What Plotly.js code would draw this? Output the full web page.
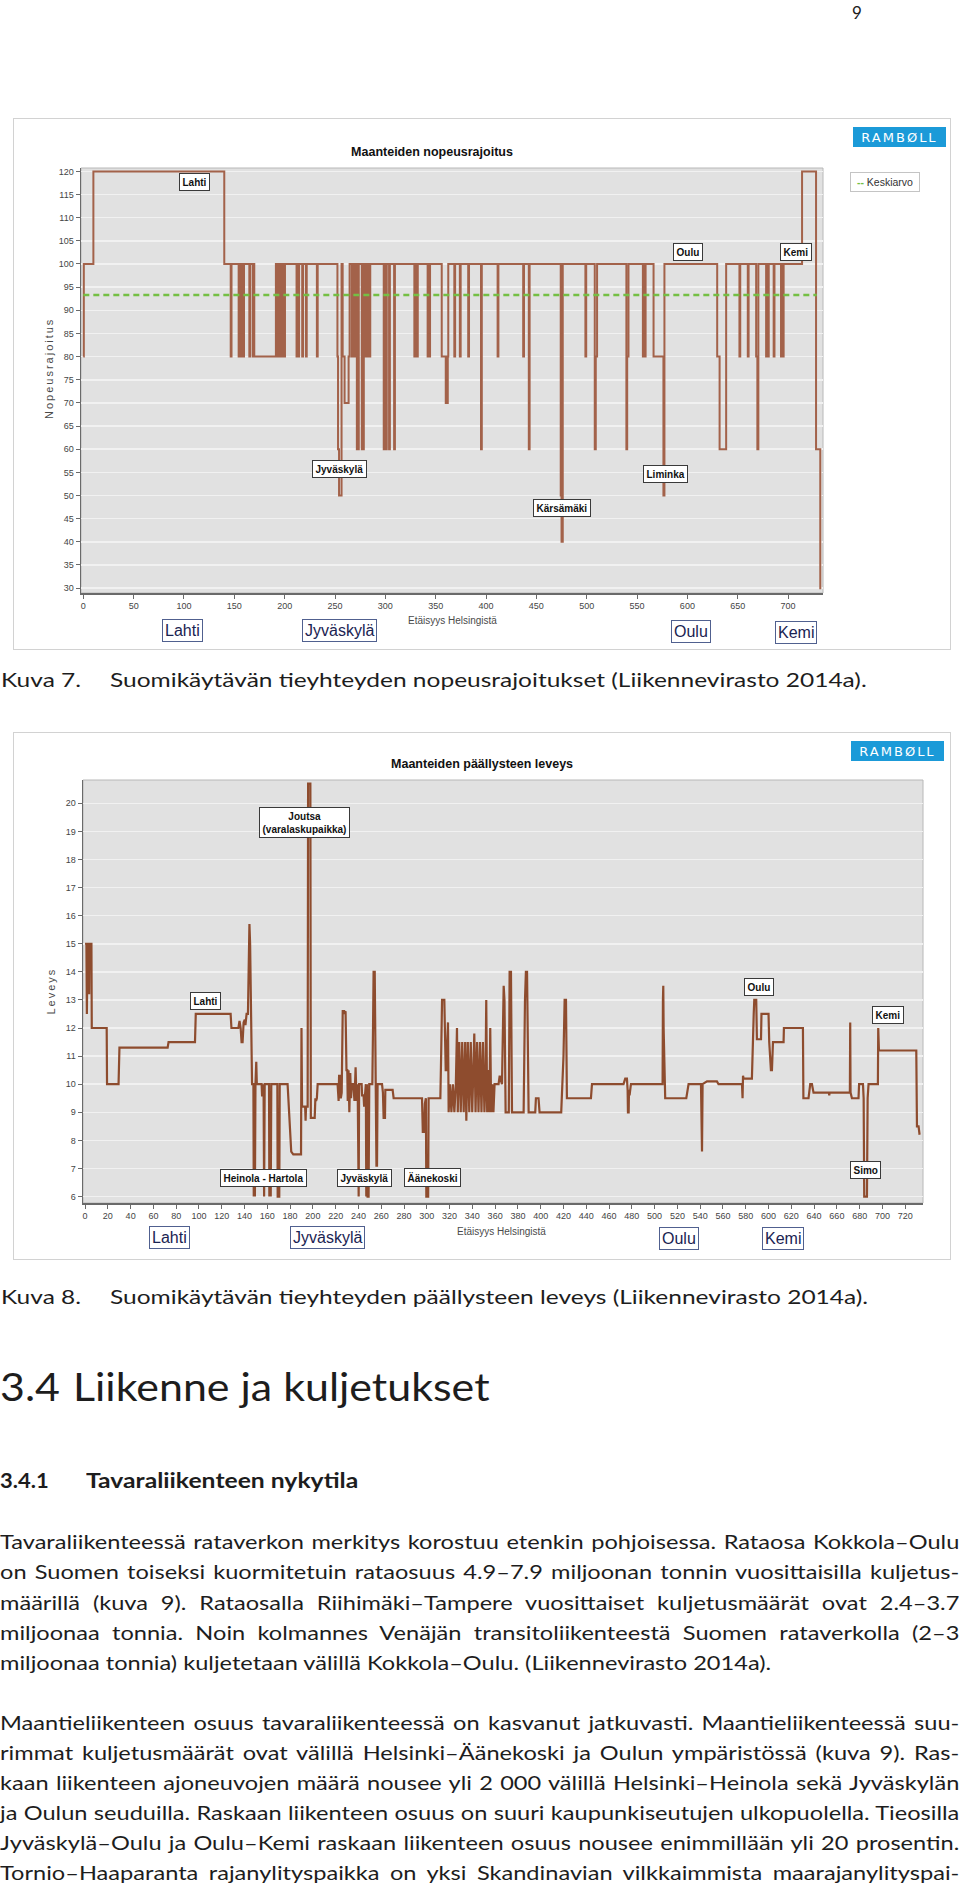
<!DOCTYPE html>
<html><head><meta charset="utf-8">
<script src="https://cdn.plot.ly/plotly-3.0.1.min.js"></script>
<style>
html,body{margin:0;padding:0;background:#fff;}
body{width:960px;height:1891px;position:relative;overflow:hidden;font-family:Lato,'Open Sans',sans-serif;color:#1d1d1d;}
.t{position:absolute;white-space:nowrap;font-size:20px;line-height:30px;transform-origin:0 50%;}
.b{transform:scaleX(1.18);}
.j{left:0;width:813px;text-align:justify;text-align-last:justify;word-spacing:-3px;}
.cap{transform:scaleX(1.225);}
.frame{position:absolute;border:1.5px solid #d2d2d2;box-sizing:border-box;pointer-events:none;}
.chart{position:absolute;}
</style></head><body>

<div class="t" style="left:852px;top:1px;font-size:17px;line-height:24px">9</div>

<div id="c1" class="chart" style="left:14px;top:118px;width:937px;height:531px"></div>
<div class="frame" style="left:13px;top:118px;width:938px;height:532px"></div>

<div class="t cap" style="left:1px;top:664px">Kuva 7.</div>
<div class="t cap" style="left:110px;top:664px">Suomikäytävän tieyhteyden nopeusrajoitukset (Liikennevirasto 2014a).</div>

<div id="c2" class="chart" style="left:14px;top:732px;width:937px;height:527px"></div>
<div class="frame" style="left:13px;top:732px;width:938px;height:528px"></div>

<div class="t cap" style="left:1px;top:1281px">Kuva 8.</div>
<div class="t cap" style="left:110px;top:1281px">Suomikäytävän tieyhteyden päällysteen leveys (Liikennevirasto 2014a).</div>

<div class="t" style="left:0;top:1363px;font-size:38px;line-height:46px;transform:scaleX(1.13)">3.4</div>
<div class="t" style="left:73px;top:1363px;font-size:38px;line-height:46px;transform:scaleX(1.13)">Liikenne ja kuljetukset</div>

<div class="t" style="left:0;top:1465px;font-weight:bold;transform:scaleX(1.1)">3.4.1</div>
<div class="t" style="left:86px;top:1465px;font-weight:bold;transform:scaleX(1.235)">Tavaraliikenteen nykytila</div>

<div class="t b j" style="top:1526px">Tavaraliikenteessä rataverkon merkitys korostuu etenkin pohjoisessa. Rataosa Kokkola–Oulu</div>
<div class="t b j" style="top:1556px">on Suomen toiseksi kuormitetuin rataosuus 4.9–7.9 miljoonan tonnin vuosittaisilla kuljetus-</div>
<div class="t b j" style="top:1587px">määrillä (kuva 9). Rataosalla Riihimäki–Tampere vuosittaiset kuljetusmäärät ovat 2.4–3.7</div>
<div class="t b j" style="top:1617px">miljoonaa tonnia. Noin kolmannes Venäjän transitoliikenteestä Suomen rataverkolla (2–3</div>
<div class="t b" style="left:0;top:1647px">miljoonaa tonnia) kuljetetaan välillä Kokkola–Oulu. (Liikennevirasto 2014a).</div>

<div class="t b j" style="top:1707px">Maantieliikenteen osuus tavaraliikenteessä on kasvanut jatkuvasti. Maantieliikenteessä suu-</div>
<div class="t b j" style="top:1737px">rimmat kuljetusmäärät ovat välillä Helsinki–Äänekoski ja Oulun ympäristössä (kuva 9). Ras-</div>
<div class="t b j" style="top:1767px">kaan liikenteen ajoneuvojen määrä nousee yli 2 000 välillä Helsinki–Heinola sekä Jyväskylän</div>
<div class="t b j" style="top:1797px">ja Oulun seuduilla. Raskaan liikenteen osuus on suuri kaupunkiseutujen ulkopuolella. Tieosilla</div>
<div class="t b j" style="top:1827px">Jyväskylä–Oulu ja Oulu–Kemi raskaan liikenteen osuus nousee enimmillään yli 20 prosentin.</div>
<div class="t b j" style="top:1857px">Tornio–Haaparanta rajanylityspaikka on yksi Skandinavian vilkkaimmista maarajanylityspai-</div>

<script>
// ---------- DATA ----------
// Chart 1: speed limit (km from Helsinki, km/h), step line
const nopeusData = [
[0,80],[0.5,100],[10,120],[140,100],[146.4,80],[147.2,100],[154.3,80],[155,100],[156,80],[157,100],[158,80],[159.6,100],
[164.9,80],[165.6,100],[168.2,80],[169,100],[169.8,80],[191.3,100],[192.2,80],[193.6,100],[194.5,80],[195.5,100],[197,80],[197.8,100],[198.6,80],[200.3,100],
[211.8,80],[212.6,100],[213.5,80],[214.3,100],[217.4,80],[218.2,100],[221.1,80],[221.9,100],[232,80],[232.8,100],
[252.4,80],[253,60],[254,50],[256.5,100],[257.6,80],[259.5,70],[263.5,80],[264.5,100],[266.7,80],[267.5,100],[269.3,80],[270,100],
[271.7,60],[273.6,100],[276.6,60],[278.6,100],[280.5,80],[281.3,100],[282.3,80],[283,100],[284.2,80],[285,100],
[298.4,60],[299.2,100],[300.5,60],[301.4,100],[303.7,60],[304.5,100],[308.7,60],[309.5,100],
[328.8,80],[329.6,100],[331.4,80],[332.2,100],[342,80],[342.8,100],[343.6,80],[344.4,100],[356,80],[360,70],[362,80],[362.5,100],
[368.5,80],[369.3,100],[374,80],[374.8,100],[382.3,80],[383.1,100],[395,60],[395.8,100],[411.5,80],[412.3,100],
[436.9,80],[437.7,100],[442.5,60],[443.3,100],[474.2,50],[475,40],[476.2,100],[498.7,80],[499.5,100],[508,60],[509,80],[510.3,100],
[539.4,60],[540.2,80],[541.5,100],[555.8,80],[556.6,100],[557.5,80],[558.5,100],[566.4,80],[576.2,50],[577.2,100],
[629.6,80],[632,60],[638.5,100],[651.7,80],[652.5,100],[660,80],[660.8,100],[668.3,80],[669.5,60],[670.5,100],
[678.2,80],[679,100],[680,80],[680.8,100],[685.7,80],[686.5,100],[693,80],[693.8,100],[694.8,80],[695.6,100],
[713.9,120],[727.8,60],[732,30],[733,30]
];
const keskiarvo = 93.3;           // Keskiarvo (mean) line value
const keskiarvoAlue = [0, 728.5]; // extent of mean line (km)

// Chart 2: pavement width (km, m)
const leveysData = [
[0,15],[1.2,15],[1.6,12.5],[2.2,15],[3.3,15],[3.6,13.2],[3.9,15],[5.6,15],[5.9,12],
[19,12],[19.3,10],[29.4,10],[30.2,11.3],[72.5,11.3],[73.3,11.5],[96.5,11.5],[97.2,12.5],[127.8,12.5],[128.5,12],[134.6,12],
[135.6,12.25],[136.6,12],[137.4,11.5],[138.3,11.5],[139.2,12.2],[140.2,12.3],[140.8,12.1],[141.8,12.5],[143,12.5],[143.6,14],
[144.3,15.7],[144.9,15],[145.4,13],[146.1,10.8],[146.6,10],[147.8,10],[148.1,6],[148.7,10],[149.1,6],[149.6,10],[150.3,10.8],
[150.8,10],[155,10],[155.4,9.6],[156.3,9.6],[156.7,10],[157.2,6],[157.7,10],[161.5,10],[161.8,6],[162.5,9.5],[163,6],[163.5,10],
[168.8,10],[169.1,6],[170.5,6],[170.9,10],[177.8,10],[179.5,8.5],[181,7.6],[182.8,7.5],[189.6,7.5],[190,12],[190.5,9.2],
[193.2,9.2],[193.6,8.7],[194,9.2],[195.4,9.2],[195.8,20.7],[197.8,20.7],[198.2,8.8],[201.6,8.8],[202.2,9.5],[202.8,9.4],[203.5,9.5],[204.2,10],
[221.7,10],[222,9.4],[222.6,9.4],[223,10.3],[223.8,10.3],[224.5,9.5],[225.3,9.7],[226.2,12.6],[227.5,12.6],[228,12.5],[228.7,12.6],
[229.5,10.5],[230.2,10.5],[230.6,9.4],[231.3,10.5],[232,9],[232.8,10.4],[233.5,9.5],[234.1,10],[235.5,10],[236.5,9.4],[237.5,10.6],
[238.3,9.4],[239.3,10],[239.7,6],[240.2,6],[240.6,10],[242.8,10],[243.2,9.6],[244.5,9.6],[245,9.2],[246.5,10],[246.9,6],[247.5,10],
[248,6],[248.9,6],[249.5,10],[252.2,10],[252.8,12],[253.3,14],[254.3,14],[255,9],[255.8,7.1],[256.3,7.1],[256.8,10],[260.7,10],
[261.5,9.7],[262.1,8.8],[263.3,8.8],[263.6,9.8],[270,9.8],[270.9,9.5],[295.8,9.5],[296.5,8.3],[297.5,8.3],[298.3,9.3],[299.2,9.5],
[299.6,6],[301.2,6],[301.6,9.5],[311.9,9.5],[312.6,11],[313.4,13],[315.4,13],[316,11.5],[316.6,10.5],[317.1,10.5],[318,11.5],[318.6,12.2],[319.2,9],
[320.3,10],[321.6,9],[322.9,10],[324.2,9],[325.5,10],[326.5,12],[327.2,9],[328.5,11.5],[329.8,9],[331.1,11.5],[332.4,9],
[333.7,11.5],[334.7,8.7],[336,11.5],[337.3,9],[338.6,11.5],[339.9,9],[341.7,11.8],[342.8,9],[344.1,11.5],[345.4,9],
[346.7,11.5],[348,9],[349.3,11.5],[350.6,9],[351.5,10],[352.2,13],[353,9],[354,10.5],[355,9],[355.7,12],[356.5,9],
[357.5,10],[358.5,9],[359.5,10],[363,10],[364,10.3],[366,10],[367.5,13.5],[368.2,13],[369.2,9],[372,9],[372.7,14],[373.9,14],[374.8,9],
[385,9],[385.6,12.5],[386.2,13],[387,14],[388,14],[389.4,9],[395.2,9],[395.8,9.5],[398.1,9.5],[399,9],[418,9],[420,11],[421,13],[422.2,13],
[423,9.5],[444.1,9.5],[445,10],[472.7,10],[474.2,10.2],[475.7,10.2],[476.3,9.8],[476.6,9],[477.2,9],[477.5,9.8],[478,9.6],[479.2,10],
[507,10],[507.3,13],[507.6,13.5],[507.9,12],[508.5,10],[509.3,9.5],[527.8,9.5],[529.8,10],[540.7,10],[541.1,7.6],[541.6,7.6],[542.1,10],
[546,10.1],[554.7,10.1],[556.1,10],[576.7,10],[577.2,9.5],[577.6,10.3],[578.1,10.2],[585.4,10.2],[586.3,12.2],[587,12.5],[587.5,13],
[589.2,13],[589.8,11.6],[593.4,11.6],[593.8,12.5],[600,12.5],[600.6,11.5],[602.1,10.5],[603,10.5],[603.9,11.5],[613.2,11.5],[613.5,12],
[630.2,12],[630.6,9.5],[635.1,9.5],[636.6,10],[638.1,10],[639.5,9.7],[653,9.7],[653.3,9.6],[653.6,9.7],[671.4,9.7],[671.7,12.2],[672,9.7],
[673.2,9.5],[679,9.5],[679.5,10],[682.9,10],[683.5,9.5],[684,6],[686.4,6],[687,9.5],[687.8,10],[696,10],[696.3,12],[696.9,11.2],
[729.7,11.2],[730.3,8.5],[731.7,8.5],[732.6,8.2]
];

// in-plot place labels [text, km, value]
const paikat1 = [["Lahti",110.2,117.8],["Oulu",601,102.65],["Kemi",707.4,102.65],["Jyväskylä",254.1,55.7],["Kärsämäki",475.1,47.2],["Liminka",578.6,54.6]];
const paikat2 = [["Joutsa<br>(varalaskupaikka)",192.5,19.33],["Lahti",105.6,12.97],["Heinola - Hartola",156.8,6.67],["Jyväskylä",245.4,6.67],["Äänekoski",304.6,6.67],["Oulu",591.3,13.47],["Kemi",704.9,12.48],["Simo",684.7,6.95]];
// city labels under axes
const kaupungit = ["Lahti","Jyväskylä","Oulu","Kemi"];

// ---------- LAYOUT HELPERS ----------
const C1 = {left:14, top:118, W:937, H:531, ml:67, mr:128, mt:50, mb:56};
const C2 = {left:14, top:732, W:937, H:527, ml:69, mr:28, mt:48, mb:56};
function P(c, px, py){
  const pw = c.W - c.ml - c.mr, ph = c.H - c.mt - c.mb;
  return {x:(px - c.left - c.ml)/pw, y:1 - (py - c.top - c.mt)/ph};
}
const FONT = 'Liberation Sans, Arial, sans-serif';
function label(t, x, y){
  return {xref:'x', yref:'y', x:x, y:y, text:'<b>'+t+'</b>', showarrow:false, xanchor:'center', yanchor:'middle',
    bgcolor:'#ffffff', bordercolor:'#3a3a3a', borderwidth:1, borderpad:2.5, font:{family:FONT, size:10, color:'#111'}};
}
function cityBox(c, t, px, py){
  const p = P(c, px, py);
  return {xref:'paper', yref:'paper', x:p.x, y:p.y, text:t, showarrow:false, xanchor:'center', yanchor:'middle',
    bgcolor:'#ffffff', bordercolor:'#50608f', borderwidth:1, borderpad:2, font:{family:FONT, size:16, color:'#1a2352'}};
}
function logo(c, px, py){
  const p = P(c, px, py);
  return {xref:'paper', yref:'paper', x:p.x, y:p.y, text:"<span style='letter-spacing:2px'>RAMBØLL</span>", showarrow:false, xanchor:'center', yanchor:'middle',
    bgcolor:'#1b9ad8', bordercolor:'#1b9ad8', borderwidth:1, width:89, height:16, borderpad:1,
    font:{family:'DejaVu Sans, Open Sans, sans-serif', size:13, color:'#ffffff'}};
}
function txt(c, t, px, py, size, angle){
  const p = P(c, px, py);
  return {xref:'paper', yref:'paper', x:p.x, y:p.y, text:t, showarrow:false, xanchor:'center', yanchor:'middle',
    textangle:angle||0, font:{family:FONT, size:size, color:'#4a4a4a'}};
}
function axes(range, dtick, grid){
  return {range:range, dtick:dtick, showgrid:grid, gridcolor:'#f1f1f1', gridwidth:1.5, zeroline:false,
    showline:true, linecolor:'#6a6a6a', linewidth:1.5, ticks:'outside', ticklen:4, tickcolor:'#6a6a6a',
    tickfont:{family:FONT, size:9, color:'#444'}, fixedrange:true};
}
const border = {type:'rect', xref:'paper', yref:'paper', x0:0, x1:1, y0:0, y1:1, line:{color:'#b8b8b8', width:1}, layer:'below'};
const cfg = {staticPlot:true, displayModeBar:false};

// ---------- CHART 1 ----------
const cityX1 = [[182,630],[339.5,630.5],[691,631],[795.5,632]];
const ann1 = paikat1.map(d=>label(d[0],d[1],d[2]))
  .concat(kaupungit.map((k,i)=>cityBox(C1,k,cityX1[i][0],cityX1[i][1])))
  .concat([logo(C1,899.5,136.8),
    Object.assign(txt(C1,"<span style='color:#74bf44'><b>--</b></span> <span style='color:#333'>Keskiarvo</span>",884.5,181.7,10.5),
      {bgcolor:'#ffffff', bordercolor:'#c4c4c4', borderwidth:1, width:66, height:16}),
    txt(C1,'Etäisyys Helsingistä',452,620.7,10),
    txt(C1,"<span style='letter-spacing:2px'>Nopeusrajoitus</span>",49,369,11,-90)]);

Plotly.newPlot('c1', [
  {x:nopeusData.map(d=>d[0]), y:nopeusData.map(d=>d[1]), type:'scatter', mode:'lines', line:{shape:'hv', color:'#a3624a', width:2}, name:'Nopeusrajoitus', showlegend:false},
  {x:keskiarvoAlue, y:[keskiarvo,keskiarvo], type:'scatter', mode:'lines', line:{color:'#74bf44', width:2.5, dash:'6px,4px'}, name:'Keskiarvo', showlegend:false}
], {
  width:C1.W, height:C1.H, margin:{l:C1.ml, r:C1.mr, t:C1.mt, b:C1.mb},
  paper_bgcolor:'#ffffff', plot_bgcolor:'#e1e1e1', font:{family:FONT},
  title:{text:'<b>Maanteiden nopeusrajoitus</b>', x:418/937, xref:'container', xanchor:'center', y:1-33.7/531, yref:'container', yanchor:'middle', font:{family:FONT, size:12.5, color:'#111'}},
  xaxis:Object.assign(axes([-2.3,734.7],50,false),{tick0:0}),
  yaxis:Object.assign(axes([28.95,120.73],5,true),{tick0:30}),
  shapes:[border], annotations:ann1, showlegend:false
}, cfg);

// ---------- CHART 2 ----------
const cityX2 = [[169.5,1237.8],[327,1237.8],[678.5,1238.3],[782.5,1239]];
const ann2 = paikat2.map(d=>label(d[0],d[1],d[2]))
  .concat(kaupungit.map((k,i)=>cityBox(C2,k,cityX2[i][0],cityX2[i][1])))
  .concat([logo(C2,897.5,750.7),
    txt(C2,'Etäisyys Helsingistä',501,1231.7,10),
    txt(C2,"<span style='letter-spacing:2px'>Leveys</span>",50.6,991,11,-90)]);

Plotly.newPlot('c2', [
  {x:leveysData.map(d=>d[0]), y:leveysData.map(d=>d[1]), type:'scatter', mode:'lines', line:{color:'#8e4c2e', width:2.2}, name:'Leveys', showlegend:false}
], {
  width:C2.W, height:C2.H, margin:{l:C2.ml, r:C2.mr, t:C2.mt, b:C2.mb},
  paper_bgcolor:'#ffffff', plot_bgcolor:'#e1e1e1', font:{family:FONT},
  title:{text:'<b>Maanteiden päällysteen leveys</b>', x:0.4995, xref:'container', xanchor:'center', y:1-32/527, yref:'container', yanchor:'middle', font:{family:FONT, size:12.5, color:'#111'}},
  xaxis:Object.assign(axes([-1.8,735.6],20,false),{tick0:0}),
  yaxis:Object.assign(axes([5.77,20.83],1,true),{tick0:6}),
  shapes:[border], annotations:ann2, showlegend:false
}, cfg);
</script>
</body></html>
